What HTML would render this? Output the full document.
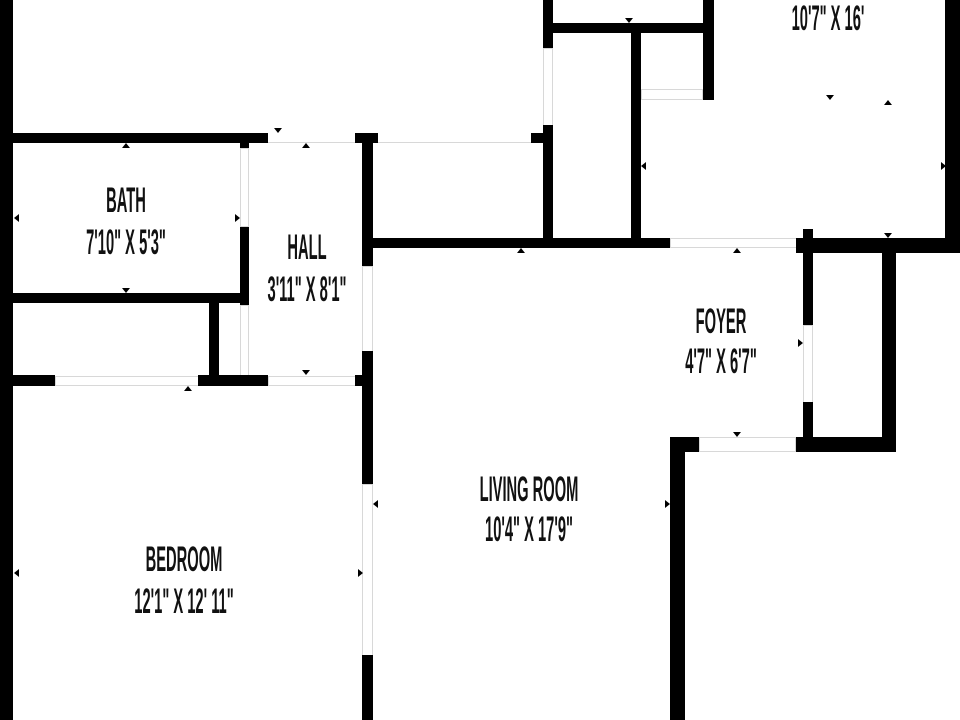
<!DOCTYPE html>
<html><head><meta charset="utf-8"><style>
html,body{margin:0;padding:0;background:#fff;}
#c{position:relative;width:960px;height:720px;overflow:hidden;background:#fff;}
.w{position:absolute;background:#000;}
.g{position:absolute;border:1px solid #d8d8d8;box-sizing:border-box;background:#fff;}
.t{position:absolute;width:300px;margin-left:-150px;text-align:center;font-family:"Liberation Sans",sans-serif;font-weight:bold;font-size:35px;line-height:35px;color:#111;transform:scaleX(0.42);white-space:nowrap;}
.a{position:absolute;width:0;height:0;}
.up{border-left:4px solid transparent;border-right:4px solid transparent;border-bottom:5px solid #000;}
.dn{border-left:4px solid transparent;border-right:4px solid transparent;border-top:5px solid #000;}
.lf{border-top:4px solid transparent;border-bottom:4px solid transparent;border-right:5px solid #000;}
.rt{border-top:4px solid transparent;border-bottom:4px solid transparent;border-left:5px solid #000;}
</style></head><body><div id="c">
<div class="w" style="left:0;top:0;width:13px;height:720px"></div>
<div class="w" style="left:0;top:133px;width:268px;height:10px"></div>
<div class="w" style="left:240px;top:143px;width:9px;height:5px"></div>
<div class="g" style="left:240px;top:148px;width:9px;height:79px"></div>
<div class="w" style="left:240px;top:227px;width:9px;height:78px"></div>
<div class="g" style="left:240px;top:305px;width:9px;height:71px"></div>
<div class="w" style="left:13px;top:293px;width:236px;height:10px"></div>
<div class="w" style="left:209px;top:303px;width:10px;height:76px"></div>
<div class="w" style="left:0;top:375px;width:55px;height:11px"></div>
<div class="g" style="left:55px;top:376px;width:144px;height:10px"></div>
<div class="w" style="left:198px;top:375px;width:70px;height:11px"></div>
<div class="g" style="left:268px;top:376px;width:88px;height:10px"></div>
<div class="w" style="left:355px;top:375px;width:17px;height:11px"></div>
<div class="g" style="left:268px;top:134px;width:88px;height:9px;border-top:none;border-left:none;border-right:none"></div>
<div class="w" style="left:355px;top:133px;width:23px;height:10px"></div>
<div class="g" style="left:378px;top:134px;width:155px;height:9px;border-top:none;border-left:none;border-right:none"></div>
<div class="w" style="left:531px;top:133px;width:22px;height:10px"></div>
<div class="w" style="left:362px;top:133px;width:11px;height:133px"></div>
<div class="g" style="left:362px;top:266px;width:11px;height:86px"></div>
<div class="w" style="left:362px;top:351px;width:11px;height:133px"></div>
<div class="g" style="left:362px;top:484px;width:11px;height:172px"></div>
<div class="w" style="left:362px;top:655px;width:11px;height:65px"></div>
<div class="w" style="left:372px;top:238px;width:298px;height:10px"></div>
<div class="g" style="left:670px;top:238px;width:127px;height:10px"></div>
<div class="w" style="left:796px;top:238px;width:164px;height:15px"></div>
<div class="w" style="left:945px;top:0;width:15px;height:253px"></div>
<div class="w" style="left:543px;top:0;width:10px;height:48px"></div>
<div class="g" style="left:543px;top:48px;width:10px;height:78px"></div>
<div class="w" style="left:543px;top:125px;width:10px;height:123px"></div>
<div class="w" style="left:553px;top:23px;width:160px;height:10px"></div>
<div class="w" style="left:631px;top:33px;width:10px;height:215px"></div>
<div class="w" style="left:703px;top:0;width:11px;height:100px"></div>
<div class="g" style="left:641px;top:89px;width:62px;height:11px"></div>
<div class="w" style="left:803px;top:229px;width:10px;height:96px"></div>
<div class="g" style="left:803px;top:325px;width:10px;height:78px"></div>
<div class="w" style="left:803px;top:402px;width:10px;height:46px"></div>
<div class="w" style="left:882px;top:248px;width:14px;height:204px"></div>
<div class="w" style="left:795px;top:437px;width:101px;height:15px"></div>
<div class="g" style="left:699px;top:437px;width:97px;height:15px"></div>
<div class="w" style="left:670px;top:437px;width:29px;height:15px"></div>
<div class="w" style="left:670px;top:437px;width:15px;height:283px"></div>
<div class="t" style="left:828px;top:1px">10'7" X 16'</div>
<div class="t" style="left:126px;top:183px">BATH</div>
<div class="t" style="left:126px;top:225px">7'10" X 5'3"</div>
<div class="t" style="left:307px;top:230px">HALL</div>
<div class="t" style="left:307px;top:272px">3'11" X 8'1"</div>
<div class="t" style="left:721px;top:304px">FOYER</div>
<div class="t" style="left:721px;top:344px">4'7" X 6'7"</div>
<div class="t" style="left:529px;top:472px">LIVING ROOM</div>
<div class="t" style="left:529px;top:512px">10'4" X 17'9"</div>
<div class="t" style="left:184px;top:542px">BEDROOM</div>
<div class="t" style="left:184px;top:584px">12'1" X 12' 11"</div>
<div class="a up" style="left:122px;top:143px"></div>
<div class="a dn" style="left:122px;top:288px"></div>
<div class="a lf" style="left:14px;top:214px"></div>
<div class="a rt" style="left:235px;top:214px"></div>
<div class="a dn" style="left:274px;top:128px"></div>
<div class="a up" style="left:302px;top:143px"></div>
<div class="a dn" style="left:302px;top:370px"></div>
<div class="a up" style="left:184px;top:386px"></div>
<div class="a lf" style="left:14px;top:569px"></div>
<div class="a rt" style="left:358px;top:569px"></div>
<div class="a lf" style="left:373px;top:500px"></div>
<div class="a rt" style="left:665px;top:500px"></div>
<div class="a up" style="left:517px;top:248px"></div>
<div class="a up" style="left:733px;top:248px"></div>
<div class="a dn" style="left:733px;top:432px"></div>
<div class="a rt" style="left:798px;top:339px"></div>
<div class="a dn" style="left:625px;top:18px"></div>
<div class="a dn" style="left:826px;top:95px"></div>
<div class="a up" style="left:884px;top:100px"></div>
<div class="a dn" style="left:884px;top:233px"></div>
<div class="a lf" style="left:641px;top:162px"></div>
<div class="a rt" style="left:941px;top:162px"></div>
</div></body></html>
